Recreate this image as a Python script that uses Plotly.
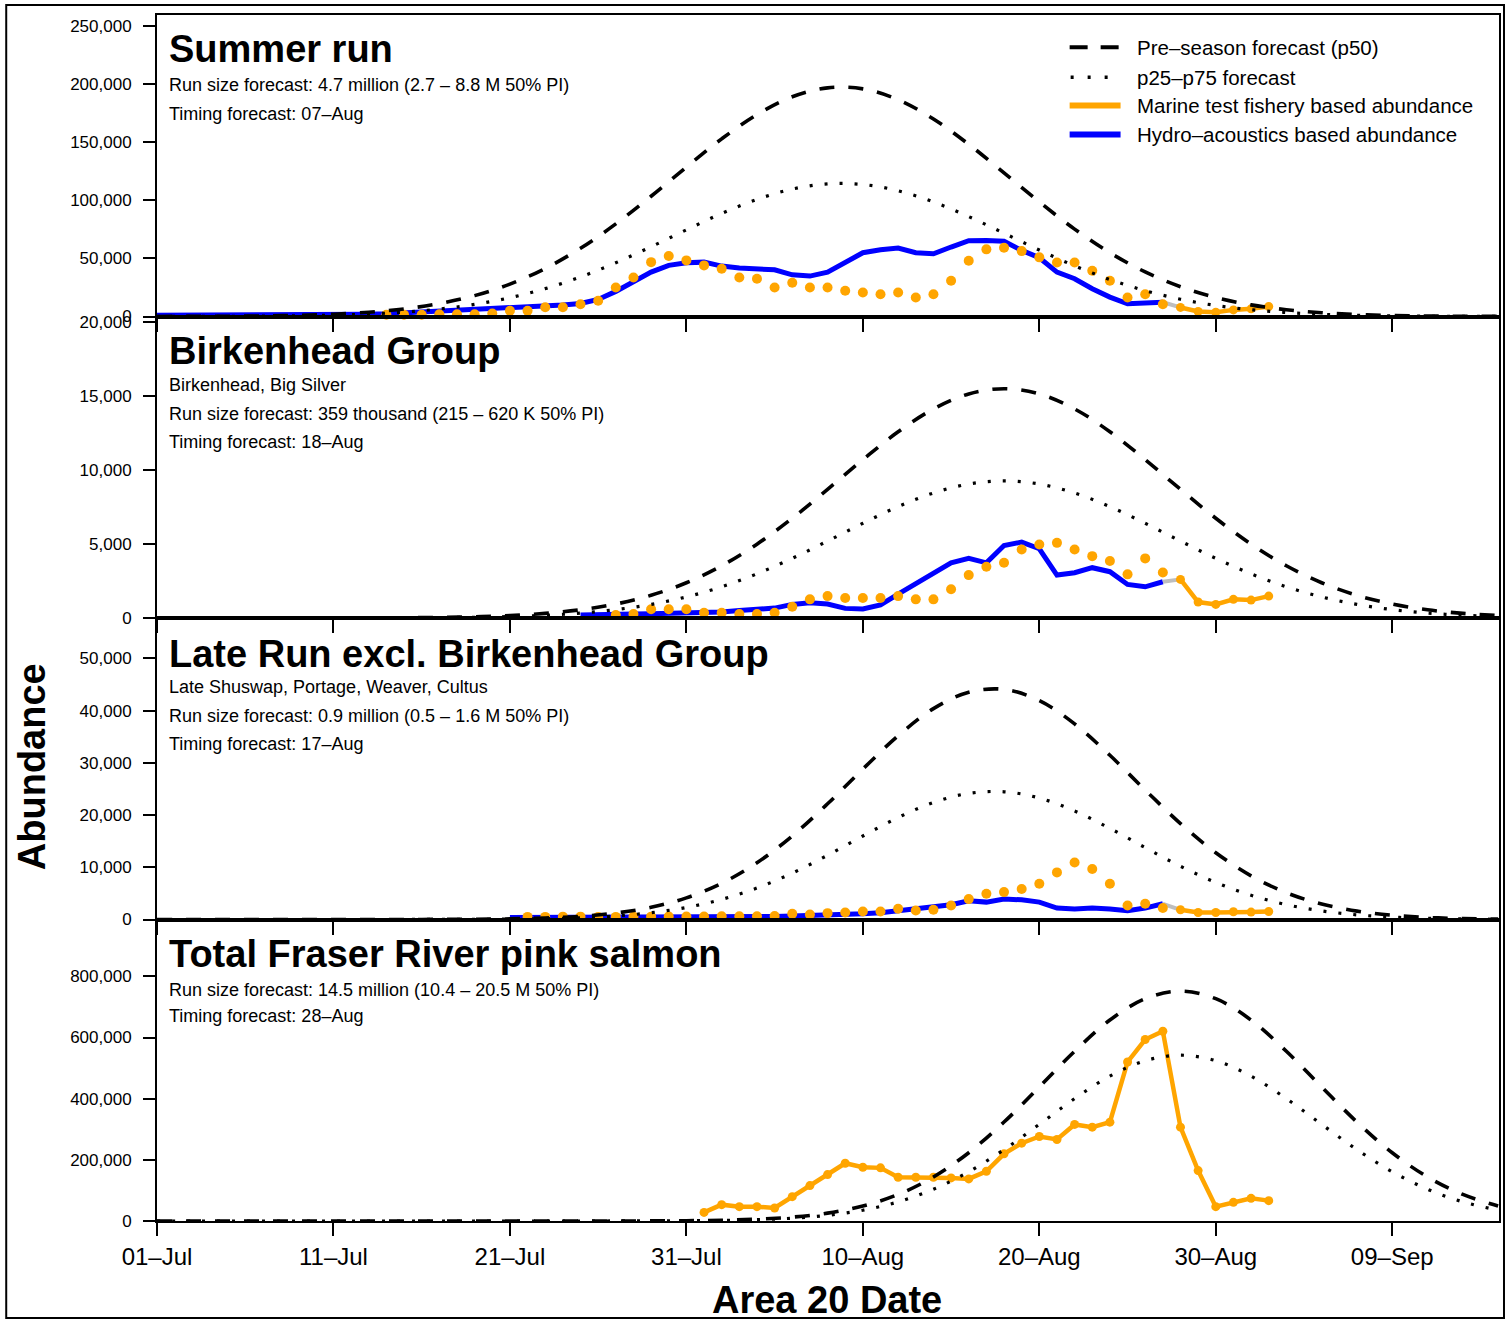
import plotly.graph_objects as go
from plotly.subplots import make_subplots

# ---------------- data (day 0 = 01-Jul) ----------------
tick_days = [0, 10, 20, 30, 40, 50, 60, 70]
tick_labels = ["01\u2013Jul", "11\u2013Jul", "21\u2013Jul", "31\u2013Jul",
               "10\u2013Aug", "20\u2013Aug", "30\u2013Aug", "09\u2013Sep"]

# forecast curves, read every second day
fc_days = list(range(0, 77, 2))
summer_p50 = [47, 109, 241, 510, 1031, 1995, 3695, 6545, 11086, 17970, 27870, 41360, 58700,
              79700, 103500, 128600, 152900, 173800, 189100, 196800, 195900, 186600, 170000,
              148200, 123600, 98600, 75200, 54900, 38350, 25630, 16370, 10010, 5860, 3280,
              1754, 898, 440, 206, 92]
summer_p25 = [27, 63, 140, 296, 598, 1157, 2143, 3796, 6430, 10423, 16165, 23989, 34046, 46226,
              60030, 74588, 88682, 100804, 109678, 114144, 113622, 108228, 98600, 85956, 71688,
              57188, 43616, 31842, 22243, 14865, 9495, 5806, 3399, 1902, 1017, 521, 255, 119, 53]
birk_p50 = [0, 0, 0, 1, 1, 4, 9, 19, 42, 85, 167, 311, 555, 944, 1535, 2382, 3530, 4993, 6742,
            8696, 10705, 12588, 14131, 15145, 15500, 15145, 14131, 12588, 10705, 8696, 6742,
            4993, 3530, 2382, 1535, 944, 555, 311, 167]
birk_p25 = [0, 0, 0, 1, 1, 2, 5, 11, 25, 51, 100, 186, 332, 565, 918, 1424, 2111, 2986, 4032,
            5200, 6402, 7528, 8450, 9057, 9270, 9057, 8450, 7528, 6402, 5200, 4032, 2986, 2111,
            1424, 918, 565, 332, 186, 100]
late_p50 = [0, 0, 0, 0, 0, 1, 2, 7, 20, 52, 125, 286, 613, 1235, 2337, 4151, 6932, 10870, 16010,
            22160, 28820, 35200, 40390, 43530, 44080, 41930, 37460, 31450, 24800, 18370, 12790,
            8360, 5130, 2962, 1606, 818, 391, 176, 74]
late_p25 = [0, 0, 0, 0, 0, 1, 1, 4, 11, 29, 69, 159, 340, 685, 1297, 2304, 3847, 6033, 8886,
            12299, 15995, 19536, 22416, 24159, 24464, 23271, 20790, 17455, 13764, 10195, 7098,
            4640, 2847, 1644, 891, 454, 217, 98, 41]
total_p50 = [0, 0, 0, 0, 0, 0, 0, 0, 0, 0, 4, 18, 44, 134, 380, 1016, 2518, 5845, 12700, 25790,
             48950, 86860, 144000, 223300, 323600, 438400, 555100, 657100, 727000, 752000,
             727000, 657100, 555100, 438400, 323600, 223300, 144000, 86860, 48950]
total_p25 = [0, 0, 0, 0, 0, 0, 0, 0, 0, 0, 3, 13, 32, 97, 274, 733, 1815, 4214, 9157, 18595,
             35293, 62626, 103824, 160999, 233316, 316086, 400227, 473769, 524167, 542192,
             524167, 473769, 400227, 316086, 233316, 160999, 103824, 62626, 35293]

# hydro-acoustics based abundance (blue)
summer_hydro_days = list(range(0, 58))
summer_hydro = [1000, 1000, 1000, 1000, 1000, 1000, 1000, 1000, 1000, 1000,
                1500, 1700, 2000, 2300, 3000, 3700, 4300, 5200, 6000, 6600,
                7500, 8300, 8900, 10000, 11200, 14700, 21600, 30200, 38200, 44000,
                46300, 46800, 43400, 41700, 40500, 40200, 35900, 34800, 38200, 46300,
                54900, 57500, 58900, 54900, 54000, 59800, 65200, 65500, 64700, 56900,
                50600, 38200, 32500, 23900, 16700, 10900, 11500, 12300]
birk_hydro_days = list(range(24, 58))
birk_hydro = [200, 250, 250, 270, 290, 320, 320, 360, 400, 500, 590, 670, 920, 1030, 940, 650,
              610, 880, 1620, 2340, 3080, 3730, 4030, 3730, 4900, 5130, 4680, 2900, 3060, 3400,
              3130, 2270, 2110, 2450]
late_hydro_days = list(range(20, 58))
late_hydro = [380, 380, 380, 380, 400, 400, 420, 430, 440, 450, 450, 480, 500, 520, 550, 575,
              650, 720, 830, 950, 1090, 1300, 1730, 2050, 2370, 2820, 3590, 3330, 3910, 3780,
              3330, 2190, 2000, 2190, 2000, 1670, 2190, 3010]

# marine test fishery based abundance (orange)
summer_marine_days = list(range(13, 64))
summer_marine = [1500, 1500, 1500, 2000, 2000, 2000, 2600, 4900, 4900, 8000, 8000, 10600, 13500,
                 25000, 33600, 46800, 52000, 48300, 44000, 41100, 33600, 32500, 25000, 29000,
                 25000, 25000, 22100, 20700, 19200, 20700, 16400, 19200, 30800, 48000, 57800,
                 59200, 56300, 50900, 46500, 46500, 39400, 30800, 16400, 19200, 10600, 7800,
                 4300, 3700, 5700, 6600, 8600]
birk_marine_days = list(range(26, 64))
birk_marine = [200, 270, 590, 590, 590, 360, 360, 270, 270, 360, 760, 1260, 1480, 1350, 1350,
               1350, 1480, 1260, 1260, 1940, 2900, 3460, 3730, 4630, 4970, 5080, 4630, 4180,
               3850, 2950, 4030, 3080, 2610, 1080, 920, 1260, 1210, 1480]
late_marine_days = list(range(21, 64))
late_marine = [500, 500, 550, 550, 500, 500, 550, 550, 575, 575, 575, 600, 600, 600, 650,
               1090, 960, 1220, 1340, 1530, 1530, 2050, 1730, 1860, 2690, 3910, 4930, 5250,
               5830, 6850, 9020, 10930, 9670, 6850, 2690, 3010, 2190, 1860, 1340, 1340, 1480,
               1420, 1530]
total_marine_days = list(range(31, 64))
total_marine = [28200, 53400, 46900, 46900, 42600, 79700, 115700, 151800, 188900, 175800,
                173800, 143000, 143000, 143000, 141000, 137700, 162600, 219700, 254500, 276400,
                266600, 315800, 306900, 323300, 520100, 593500, 620700, 306900, 164900, 46900,
                61000, 74100, 66600]

titles = ["Summer run", "Birkenhead Group", "Late Run excl. Birkenhead Group",
          "Total Fraser River pink salmon"]
subtexts = [
    ["Run size forecast: 4.7 million (2.7 \u2013 8.8 M 50% PI)", "Timing forecast: 07\u2013Aug"],
    ["Birkenhead, Big Silver", "Run size forecast: 359 thousand (215 \u2013 620 K 50% PI)",
     "Timing forecast: 18\u2013Aug"],
    ["Late Shuswap, Portage, Weaver, Cultus",
     "Run size forecast: 0.9 million (0.5 \u2013 1.6 M 50% PI)", "Timing forecast: 17\u2013Aug"],
    ["Run size forecast: 14.5 million (10.4 \u2013 20.5 M 50% PI)", "Timing forecast: 28\u2013Aug"],
]
y_ranges = [259500, 20380, 57750, 986000]
y_ticks = [[0, 50000, 100000, 150000, 200000, 250000],
           [0, 5000, 10000, 15000, 20000],
           [0, 10000, 20000, 30000, 40000, 50000],
           [0, 200000, 400000, 600000, 800000]]
legend_labels = ["Pre\u2013season forecast (p50)", "p25\u2013p75 forecast",
                 "Marine test fishery based abundance", "Hydro\u2013acoustics based abundance"]

# ---------------- styling ----------------
FONT = "Liberation Sans, Arial, Helvetica, sans-serif"
ORANGE = "#FFA500"
BLUE = "#0000FF"
GREY = "#BEBEBE"
W, H = 1509, 1321
L, R, T, B = 157, 1501, 15, 1221


def fx(X):
    return (X - L) / (R - L)


def fy(Y):
    return (B - Y) / (B - T)


fig = make_subplots(rows=4, cols=1, vertical_spacing=0)

panels = [
    (summer_hydro_days, summer_hydro, summer_marine_days, summer_marine, summer_p50, summer_p25),
    (birk_hydro_days, birk_hydro, birk_marine_days, birk_marine, birk_p50, birk_p25),
    (late_hydro_days, late_hydro, late_marine_days, late_marine, late_p50, late_p25),
    (None, None, total_marine_days, total_marine, total_p50, total_p25),
]

for i, (hd, hv, md, mv, p50, p25) in enumerate(panels, start=1):
    if hd is not None:
        last = hd[-1]
        fig.add_trace(go.Scatter(x=hd, y=hv, mode="lines", line=dict(color=BLUE, width=5),
                                 showlegend=False, hoverinfo="skip"), row=i, col=1)
        dots_x = [d for d in md if d <= last]
        dots_y = [v for d, v in zip(md, mv) if d <= last]
        line_x = [d for d in md if d > last]
        line_y = [v for d, v in zip(md, mv) if d > last]
        fig.add_trace(go.Scatter(x=[last, line_x[0]], y=[hv[-1], line_y[0]], mode="lines",
                                 line=dict(color=GREY, width=4), showlegend=False,
                                 hoverinfo="skip"), row=i, col=1)
        fig.add_trace(go.Scatter(x=dots_x, y=dots_y, mode="markers",
                                 marker=dict(color=ORANGE, size=10, line=dict(width=0)),
                                 showlegend=False, cliponaxis=False), row=i, col=1)
    else:
        line_x, line_y = md, mv
    fig.add_trace(go.Scatter(x=line_x, y=line_y, mode="lines+markers",
                             line=dict(color=ORANGE, width=4.5),
                             marker=dict(color=ORANGE, size=9, line=dict(width=0)),
                             showlegend=False), row=i, col=1)
    fig.add_trace(go.Scatter(x=fc_days, y=p25, mode="lines",
                             line=dict(color="black", width=3.2, dash="3px,12px",
                                       shape="spline"),
                             showlegend=False, hoverinfo="skip"), row=i, col=1)
    fig.add_trace(go.Scatter(x=fc_days, y=p50, mode="lines",
                             line=dict(color="black", width=3.6, dash="15px,14px",
                                       shape="spline"),
                             showlegend=False, hoverinfo="skip"), row=i, col=1)

    fig.update_xaxes(range=[0, 76.05], tickvals=tick_days, ticktext=tick_labels,
                     showticklabels=(i == 4), ticks="outside", ticklen=13, tickwidth=1.5,
                     tickcolor="black", showline=True, mirror=True, linewidth=2,
                     linecolor="black", showgrid=False, zeroline=False,
                     tickfont=dict(family=FONT, size=24, color="black"),
                     ticklabelstandoff=0, row=i, col=1)
    fig.update_yaxes(range=[0, y_ranges[i - 1]], tickvals=y_ticks[i - 1], tickformat=",",
                     ticks="outside", ticklen=12, tickwidth=1.5, tickcolor="black",
                     showline=True, mirror=True, linewidth=2, linecolor="black",
                     showgrid=False, zeroline=False,
                     tickfont=dict(family=FONT, size=17, color="black"),
                     ticklabelstandoff=8, row=i, col=1)

annotations = []
title_y = [49, 350.5, 653.5, 953.5]
sub_y = [[85, 113.5], [385, 414, 442], [687, 715.5, 744], [990, 1016]]
for k in range(4):
    annotations.append(dict(x=fx(167), y=fy(title_y[k]), xref="paper", yref="paper",
                            text="<b>" + titles[k] + "</b>", showarrow=False,
                            xanchor="left", yanchor="middle",
                            font=dict(family=FONT, size=38, color="black")))
    for t, yy in zip(subtexts[k], sub_y[k]):
        annotations.append(dict(x=fx(167), y=fy(yy), xref="paper", yref="paper", text=t,
                                showarrow=False, xanchor="left", yanchor="middle",
                                font=dict(family=FONT, size=18, color="black")))

# axis titles
annotations.append(dict(x=fx(32), y=fy(767), xref="paper", yref="paper",
                        text="<b>Abundance</b>", textangle=-90, showarrow=False,
                        xanchor="center", yanchor="middle",
                        font=dict(family=FONT, size=38, color="black")))
annotations.append(dict(x=fx(828), y=fy(1300), xref="paper", yref="paper",
                        text="<b>Area 20 Date</b>", showarrow=False,
                        xanchor="center", yanchor="middle",
                        font=dict(family=FONT, size=38, color="black")))

# legend (drawn in panel 1, top right)
leg_y = [47.3, 77.3, 105.5, 134.5]
for lab, yy in zip(legend_labels, leg_y):
    annotations.append(dict(x=fx(1136), y=fy(yy), xref="paper", yref="paper", text=lab,
                            showarrow=False, xanchor="left", yanchor="middle",
                            font=dict(family=FONT, size=20.5, color="black")))

shapes = [
    dict(type="line", xref="paper", yref="paper", x0=fx(1071), x1=fx(1121),
         y0=fy(leg_y[0]), y1=fy(leg_y[0]), line=dict(color="black", width=4, dash="18px,13px")),
    dict(type="line", xref="paper", yref="paper", x0=fx(1072), x1=fx(1110),
         y0=fy(leg_y[1]), y1=fy(leg_y[1]), line=dict(color="black", width=3.5, dash="3px,14px")),
    dict(type="line", xref="paper", yref="paper", x0=fx(1071), x1=fx(1122),
         y0=fy(leg_y[2]), y1=fy(leg_y[2]), line=dict(color=ORANGE, width=6)),
    dict(type="line", xref="paper", yref="paper", x0=fx(1071), x1=fx(1122),
         y0=fy(leg_y[3]), y1=fy(leg_y[3]), line=dict(color=BLUE, width=6)),
    # outer frame around the figure
    dict(type="rect", xref="paper", yref="paper", x0=fx(6), x1=fx(1506), y0=fy(1318),
         y1=fy(5), line=dict(color="black", width=2), fillcolor="rgba(0,0,0,0)", layer="below"),
]

fig.update_layout(width=W, height=H, margin=dict(l=L, r=W - R, t=T, b=H - B),
                  paper_bgcolor="white", plot_bgcolor="rgba(0,0,0,0)",
                  showlegend=False, annotations=annotations, shapes=shapes,
                  font=dict(family=FONT, color="black"))

fig.write_html("out.html", config={"displayModeBar": False},
               post_script="document.body.style.margin='0';")
